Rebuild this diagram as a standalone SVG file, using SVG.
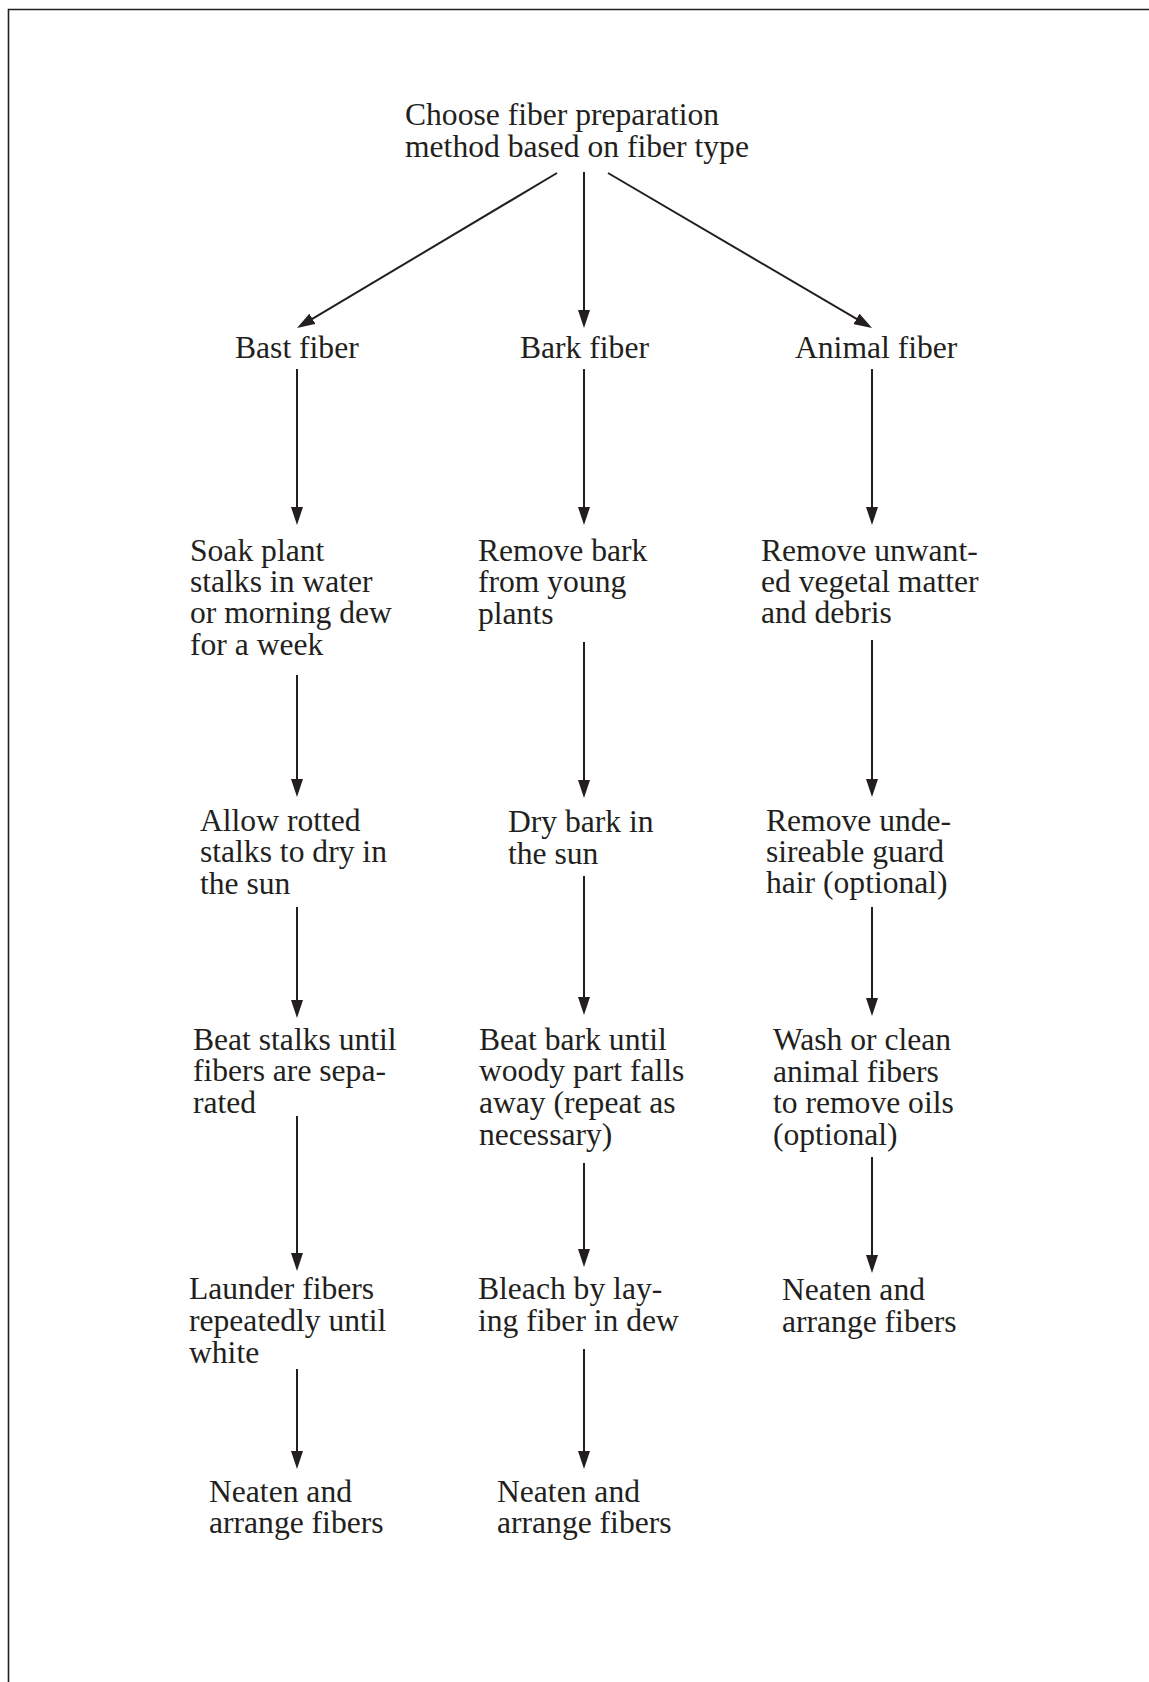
<svg xmlns="http://www.w3.org/2000/svg" width="1149" height="1682" viewBox="0 0 1149 1682">
<style>
.t{font-family:"Liberation Serif","Times New Roman",serif;font-size:31.6px;fill:#231f20}
.c{stroke:#231f20;stroke-width:2;fill:none;marker-end:url(#ah)}
</style>
<defs>
<marker id="ah" markerUnits="userSpaceOnUse" markerWidth="18" markerHeight="12" refX="8" refY="6" orient="auto" viewBox="0 0 18 12">
<path d="M0,0 L18,6 L0,12 z" fill="#231f20"/>
</marker>
</defs>
<rect width="1149" height="1682" fill="#fff"/>
<path d="M8.5,1682 V9.5 H1149" fill="none" stroke="#231f20" stroke-width="1.6"/>
<g id="connectors">
<line class="c" x1="557" y1="173" x2="305.6" y2="322.9"/>
<line class="c" x1="584" y1="172" x2="584" y2="318"/>
<line class="c" x1="608" y1="173" x2="863.4" y2="322.9"/>
<line class="c" x1="297" y1="369" x2="297" y2="515"/>
<line class="c" x1="584" y1="369" x2="584" y2="515"/>
<line class="c" x1="872" y1="369" x2="872" y2="515"/>
<line class="c" x1="297" y1="675" x2="297" y2="787"/>
<line class="c" x1="584" y1="642" x2="584" y2="788"/>
<line class="c" x1="872" y1="640" x2="872" y2="787"/>
<line class="c" x1="297" y1="907" x2="297" y2="1008"/>
<line class="c" x1="584" y1="876" x2="584" y2="1005"/>
<line class="c" x1="872" y1="907" x2="872" y2="1006"/>
<line class="c" x1="297" y1="1116" x2="297" y2="1261"/>
<line class="c" x1="584" y1="1163" x2="584" y2="1257"/>
<line class="c" x1="872" y1="1157" x2="872" y2="1263"/>
<line class="c" x1="297" y1="1369" x2="297" y2="1459"/>
<line class="c" x1="584" y1="1349" x2="584" y2="1459"/>
</g>
<g id="root"><text class="t"><tspan x="405" y="125">Choose fiber preparation</tspan><tspan x="405" y="157">method based on fiber type</tspan></text></g>
<g id="bast"><text class="t" x="235" y="358">Bast fiber</text></g>
<g id="bark"><text class="t" x="520" y="358">Bark fiber</text></g>
<g id="animal"><text class="t" x="795" y="358">Animal fiber</text></g>
<g id="bast1"><text class="t"><tspan x="190" y="561">Soak plant</tspan><tspan x="190" y="592">stalks in water</tspan><tspan x="190" y="623">or morning dew</tspan><tspan x="190" y="655">for a week</tspan></text></g>
<g id="bark1"><text class="t"><tspan x="478" y="561">Remove bark</tspan><tspan x="478" y="592">from young</tspan><tspan x="478" y="624">plants</tspan></text></g>
<g id="animal1"><text class="t"><tspan x="761" y="561">Remove unwant-</tspan><tspan x="761" y="592">ed vegetal matter</tspan><tspan x="761" y="623">and debris</tspan></text></g>
<g id="bast2"><text class="t"><tspan x="200" y="831">Allow rotted</tspan><tspan x="200" y="862">stalks to dry in</tspan><tspan x="200" y="894">the sun</tspan></text></g>
<g id="bark2"><text class="t"><tspan x="508" y="832">Dry bark in</tspan><tspan x="508" y="864">the sun</tspan></text></g>
<g id="animal2"><text class="t"><tspan x="766" y="831">Remove unde-</tspan><tspan x="766" y="862">sireable guard</tspan><tspan x="766" y="893">hair (optional)</tspan></text></g>
<g id="bast3"><text class="t"><tspan x="193" y="1050">Beat stalks until</tspan><tspan x="193" y="1081">fibers are sepa-</tspan><tspan x="193" y="1113">rated</tspan></text></g>
<g id="bark3"><text class="t"><tspan x="479" y="1050">Beat bark until</tspan><tspan x="479" y="1081">woody part falls</tspan><tspan x="479" y="1113">away (repeat as</tspan><tspan x="479" y="1145">necessary)</tspan></text></g>
<g id="animal3"><text class="t"><tspan x="773" y="1050">Wash or clean</tspan><tspan x="773" y="1082">animal fibers</tspan><tspan x="773" y="1113">to remove oils</tspan><tspan x="773" y="1145">(optional)</tspan></text></g>
<g id="bast4"><text class="t"><tspan x="189" y="1299">Launder fibers</tspan><tspan x="189" y="1331">repeatedly until</tspan><tspan x="189" y="1363">white</tspan></text></g>
<g id="bark4"><text class="t"><tspan x="478" y="1299">Bleach by lay-</tspan><tspan x="478" y="1331">ing fiber in dew</tspan></text></g>
<g id="animal4"><text class="t"><tspan x="782" y="1300">Neaten and</tspan><tspan x="782" y="1332">arrange fibers</tspan></text></g>
<g id="bast5"><text class="t"><tspan x="209" y="1502">Neaten and</tspan><tspan x="209" y="1533">arrange fibers</tspan></text></g>
<g id="bark5"><text class="t"><tspan x="497" y="1502">Neaten and</tspan><tspan x="497" y="1533">arrange fibers</tspan></text></g>
</svg>
